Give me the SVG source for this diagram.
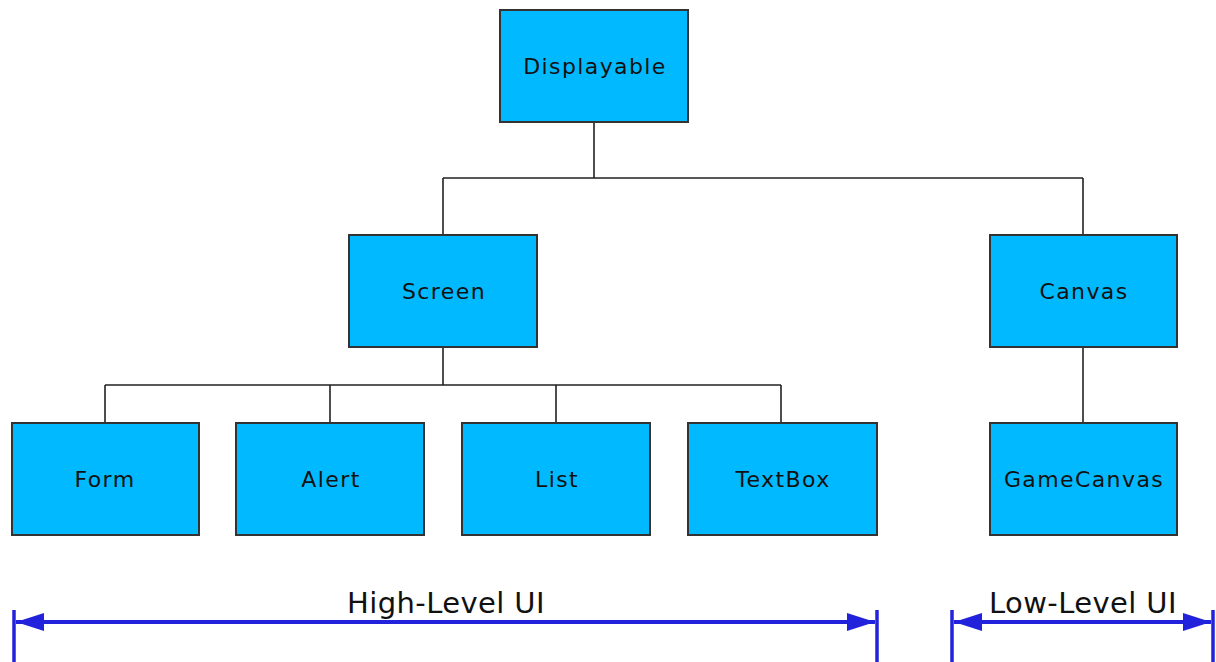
<svg xmlns="http://www.w3.org/2000/svg" width="1216" height="662" viewBox="0 0 1216 662">
  <style>
    .box { fill: #00b9ff; stroke: #333333; stroke-width: 2; }
    .lbl { font-family: "DejaVu Sans", Verdana, sans-serif; font-size: 22px; letter-spacing: 1.4px; fill: #111111; text-anchor: middle; dominant-baseline: central; }
    .wire { fill: none; stroke: #222222; stroke-width: 1.6; }
    .dim { stroke: #2222dd; stroke-width: 4; fill: none; }
    .tick { stroke: #2222dd; stroke-width: 3.5; }
    .cap { font-family: "DejaVu Sans", Verdana, sans-serif; font-size: 29px; letter-spacing: 0.4px; fill: #111111; text-anchor: middle; }
  </style>
  <defs>
    <marker id="head" viewBox="0 0 28 18" refX="28" refY="9" markerWidth="28" markerHeight="18" markerUnits="userSpaceOnUse" orient="auto-start-reverse">
      <path d="M0,0 L28,9 L0,18 Z" fill="#2222dd"/>
    </marker>
  </defs>
  <rect width="1216" height="662" fill="#ffffff"/>

  <g id="connectors">
    <path class="wire" d="M594,122 V178 M443,178 H1083 M443,178 V235 M1083,178 V235"/>
    <path class="wire" d="M443,347 V385 M105,385 H781 M105,385 V423 M330,385 V423 M556,385 V423 M781,385 V423"/>
    <path class="wire" d="M1083,347 V423"/>
  </g>

  <g id="displayable"><rect class="box" x="500" y="10" width="188" height="112"/><text class="lbl" x="595" y="66">Displayable</text></g>
  <g id="screen"><rect class="box" x="349" y="235" width="188" height="112"/><text class="lbl" x="444" y="291">Screen</text></g>
  <g id="canvas"><rect class="box" x="990" y="235" width="187" height="112"/><text class="lbl" x="1084" y="291">Canvas</text></g>
  <g id="form"><rect class="box" x="12" y="423" width="187" height="112"/><text class="lbl" x="105" y="479">Form</text></g>
  <g id="alert"><rect class="box" x="236" y="423" width="188" height="112"/><text class="lbl" x="331" y="479">Alert</text></g>
  <g id="list"><rect class="box" x="462" y="423" width="188" height="112"/><text class="lbl" x="557" y="479">List</text></g>
  <g id="textbox"><rect class="box" x="688" y="423" width="189" height="112"/><text class="lbl" x="783" y="479">TextBox</text></g>
  <g id="gamecanvas"><rect class="box" x="990" y="423" width="187" height="112"/><text class="lbl" x="1084" y="479">GameCanvas</text></g>

  <g id="high-level">
    <line class="tick" x1="14" y1="610" x2="14" y2="662"/>
    <line class="tick" x1="877" y1="610" x2="877" y2="662"/>
    <line class="dim" x1="16" y1="622" x2="875" y2="622" marker-start="url(#head)" marker-end="url(#head)"/>
    <text class="cap" x="446" y="613">High-Level UI</text>
  </g>
  <g id="low-level">
    <line class="tick" x1="952" y1="610" x2="952" y2="662"/>
    <line class="tick" x1="1213" y1="610" x2="1213" y2="662"/>
    <line class="dim" x1="954" y1="622" x2="1211" y2="622" marker-start="url(#head)" marker-end="url(#head)"/>
    <text class="cap" x="1083" y="613">Low-Level UI</text>
  </g>
</svg>
